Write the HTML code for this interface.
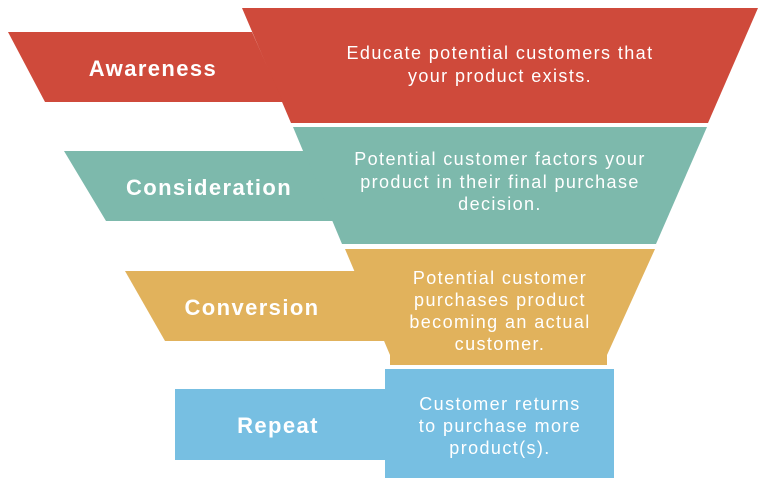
<!DOCTYPE html>
<html><head><meta charset="utf-8"><style>
html,body{margin:0;padding:0;background:#fff;}
svg{display:block;}
text{font-family:"Liberation Sans",sans-serif;fill:#fff;}
.l{font-weight:bold;font-size:22px;letter-spacing:1.4px;}
.d{font-size:18px;letter-spacing:1.4px;}
</style></head><body>
<svg width="768" height="482" viewBox="0 0 768 482">
<g fill="#CF4A3B">
<polygon points="242,8 758,8 708,123 291,123"/>
<polygon points="8,32 252,32 283,102 45,102"/>
</g>
<g fill="#7DB9AC">
<polygon points="293,127 707,127 656,244 342,244"/>
<polygon points="64,151 304,151 333,221 106,221"/>
</g>
<g fill="#E1B25C">
<polygon points="345,249 655,249 607,355 607,365 390,365 390,355"/>
<polygon points="125,271 355,271 386,341 165,341"/>
</g>
<g fill="#77BFE2">
<rect x="385" y="369" width="229" height="109"/>
<rect x="175" y="389" width="212" height="71"/>
</g>
<text class="l" x="153" y="76" text-anchor="middle">Awareness</text>
<text class="d" x="500" y="59" text-anchor="middle">Educate potential customers that</text>
<text class="d" x="500" y="82" text-anchor="middle">your product exists.</text>
<text class="l" x="209" y="195" text-anchor="middle">Consideration</text>
<text class="d" x="500" y="165" text-anchor="middle">Potential customer factors your</text>
<text class="d" x="500" y="188" text-anchor="middle">product in their final purchase</text>
<text class="d" x="500" y="210" text-anchor="middle">decision.</text>
<text class="l" x="252" y="315" text-anchor="middle">Conversion</text>
<text class="d" x="500" y="284" text-anchor="middle">Potential customer</text>
<text class="d" x="500" y="306" text-anchor="middle">purchases product</text>
<text class="d" x="500" y="328" text-anchor="middle">becoming an actual</text>
<text class="d" x="500" y="350" text-anchor="middle">customer.</text>
<text class="l" x="278" y="433" text-anchor="middle">Repeat</text>
<text class="d" x="500" y="410" text-anchor="middle">Customer returns</text>
<text class="d" x="500" y="432" text-anchor="middle">to purchase more</text>
<text class="d" x="500" y="454" text-anchor="middle">product(s).</text>
</svg>
</body></html>
